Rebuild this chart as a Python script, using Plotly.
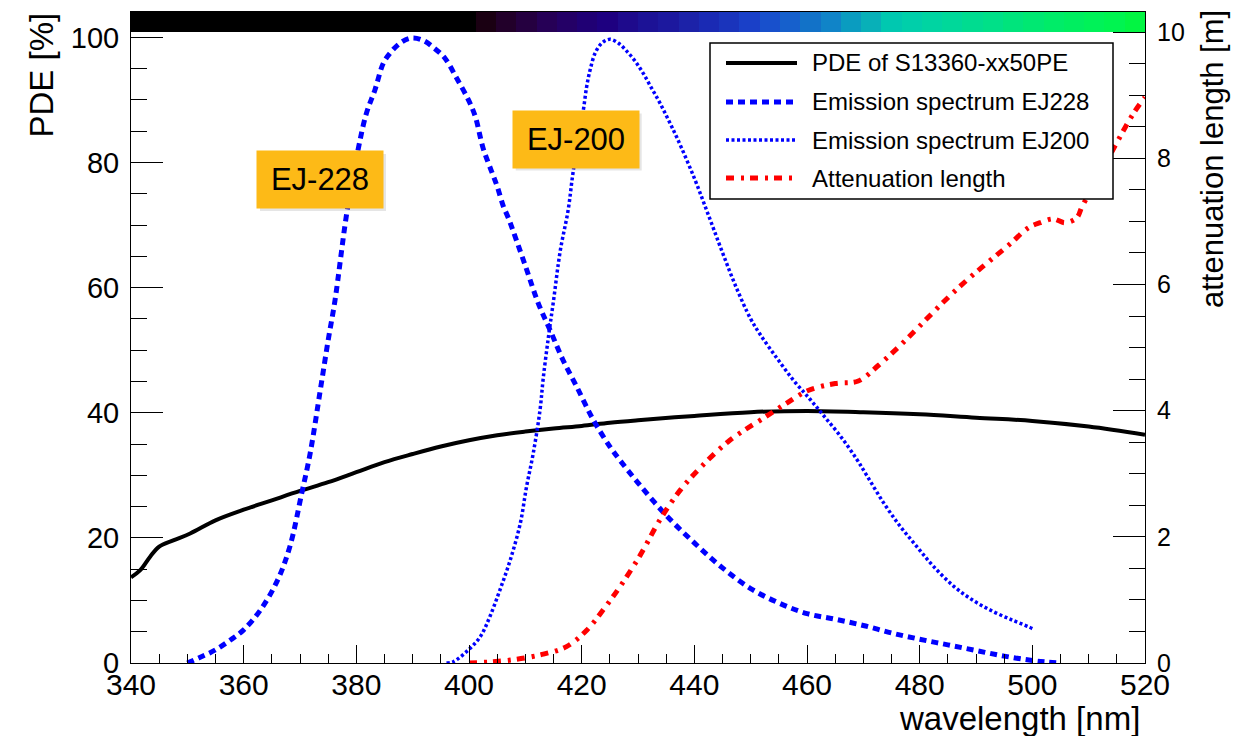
import plotly.graph_objects as go

# ---------------- data ----------------
pde_wl = [340, 341.6, 343.4, 345, 347.5, 350.5, 355, 360, 365, 370, 375, 380, 385, 390,
          395, 400, 405, 410, 415, 420, 425, 430, 440, 450, 460, 470, 480, 490, 500, 510, 520]
pde_val = [13.7, 14.8, 17.0, 18.6, 19.6, 20.7, 22.8, 24.5, 26.0, 27.5, 28.9, 30.5, 32.1, 33.4,
           34.6, 35.6, 36.4, 37.0, 37.5, 37.9, 38.4, 38.8, 39.5, 40.1, 40.3, 40.1, 39.75, 39.2,
           38.7, 37.8, 36.5]

ej228_wl = [350, 352, 355, 358, 360, 363, 366, 368.2, 370.3, 371.8, 373.6, 375, 376.2, 378.3,
            380.3, 381.8, 383.3, 384.8, 386, 387.8, 389.8, 391.9, 393.8, 395.7, 397.8, 399.9,
            401.1, 402.5, 404, 405, 406.1, 407, 410, 412.3, 414.4, 416.7, 419.1, 422.1, 425,
            426.8, 430, 435, 440, 445, 450, 455, 460, 465, 470, 475, 480, 485, 490, 495, 500,
            502.6, 505]
ej228_val = [0, 0.8, 2.1, 3.9, 5.3, 8.5, 13.2, 18.6, 27.1, 33.5, 43.6, 51.6, 57.9, 71.9,
             82.0, 87.9, 91.6, 95.9, 97.5, 99.1, 99.9, 99.5, 98.3, 96.7, 93.5, 90.0,
             87.4, 82.3, 78.6, 76.2, 73.0, 71.1, 63.5, 57.5, 53.2, 48.4, 44.2, 38.8, 34.6,
             32.4, 28.8, 23.6, 19.2, 15.2, 11.9, 9.6, 7.9, 7.0, 6.0, 4.8, 3.8, 2.9, 2.0, 1.1,
             0.4, 0.16, 0]

ej200_wl = [396, 397.2, 399.9, 402, 403.7, 405.5, 407.3, 409.1, 410.2, 411.4, 412.6, 413.2,
            414.1, 415, 416.2, 417.6, 418.5, 420.3, 420.9, 421.5, 422.4, 423.6, 425, 426.5,
            428, 429.5, 430.9, 432.4, 433.9, 435.4, 437, 440, 442.5, 445, 447.5, 450, 451.7,
            454.6, 457.6, 460.5, 462.9, 465.9, 468.8, 470.6, 473.6, 476.5, 479.5, 482.4, 486,
            489.5, 493.1, 496.6, 499.3, 500]
ej200_val = [0, 0.2, 2.1, 4.2, 7.4, 11.7, 16.4, 22.3, 28.1, 33.5, 40.4, 45.7,
             52.1, 57.9, 65.9, 72.4, 78.6, 88.4, 92.2, 94.8, 97.5, 99.1, 99.7, 99.1,
             97.8, 96.2, 94.3, 91.9, 89.5, 86.8, 83.8, 77.5, 71.6, 65.6, 59.9, 55.0, 52.5,
             48.8, 45.2, 42.2, 39.6, 36.3, 32.6, 30.0, 25.6, 21.9, 18.6, 15.5, 12.3,
             10.0, 8.2, 6.8, 5.8, 5.5]

att_wl = [400, 404.3, 408.5, 413.2, 417.3, 420.9, 423.8, 426.8, 430.4, 433.9, 437.5, 441,
          446.3, 452.6, 456.4, 460.2, 465, 469.1, 472.7, 475.9, 479.2, 482.4, 485.7, 488.9,
          492.5, 496, 499.3, 501.4, 503.7, 505.8, 507.9, 508.8, 512, 515, 518, 520]
att_val = [0, 0.02, 0.06, 0.14, 0.26, 0.52, 0.84, 1.21, 1.71, 2.27, 2.74, 3.09,
           3.53, 3.90, 4.12, 4.32, 4.43, 4.47, 4.72, 4.98, 5.27, 5.56, 5.85, 6.11,
           6.38, 6.64, 6.90, 6.98, 7.04, 6.98, 7.06, 7.23, 7.75, 8.25, 8.72, 8.97]

# colour strip on top: 50 bins of 3.6 nm from 340 to 520 nm
strip_lo, strip_hi, strip_bins = 340.0, 520.0, 50
strip_colors = (["#000000"] * 17 + [
    "#1a0012", "#22002a", "#250040", "#260056", "#240066", "#200074", "#1e0080",
    "#1e0a8c", "#1c1296", "#1c189e", "#1c22a8", "#1a2ab4", "#1a34bc", "#1a40c8",
    "#1850cc", "#1660cc", "#1272c8", "#1084c8", "#0a9cc0", "#08b0b8", "#00c8b0",
    "#00cfaa", "#00d4a2", "#00d89a", "#00dc90", "#00e088", "#00e47c", "#00e872",
    "#00ec68", "#00ee60", "#00f258", "#00f450", "#02f542"])

legend_names = ["PDE of S13360-xx50PE", "Emission spectrum EJ228",
                "Emission spectrum EJ200", "Attenuation length"]

# ---------------- figure ----------------
W, H = 1252, 736
ML, MR, MT, MB = 131, 107, 12, 73
PW, PH = W - ML - MR, H - MT - MB


def px(xp):
    return (xp - ML) / PW


def py(yp):
    return (H - MB - yp) / PH


FONT = "Liberation Sans, Arial, Helvetica, sans-serif"

styles = [
    dict(color="black", width=4, dash="solid"),
    dict(color="#0000ff", width=5, dash="7px,5px"),
    dict(color="#0000ff", width=3.5, dash="3px,2.5px"),
    dict(color="#ff0000", width=5, dash="8px,7px,3px,6px"),
]

fig = go.Figure()

# top colour strip
step = (strip_hi - strip_lo) / strip_bins
edges = [strip_lo + i * step for i in range(strip_bins + 1)]
n = len(strip_colors)
cscale = [[i / (n - 1), c] for i, c in enumerate(strip_colors)]
fig.add_trace(go.Heatmap(x=edges, y=[10.0, 10.32], z=[list(range(n))],
                         colorscale=cscale, zmin=0, zmax=n - 1, showscale=False,
                         hoverinfo="skip", yaxis="y2"))

fig.add_trace(go.Scatter(x=pde_wl, y=pde_val, mode="lines", line=styles[0],
                         name=legend_names[0], line_shape="spline", showlegend=False))
fig.add_trace(go.Scatter(x=ej228_wl, y=ej228_val, mode="lines", line=styles[1],
                         name=legend_names[1], line_shape="spline", showlegend=False))
fig.add_trace(go.Scatter(x=ej200_wl, y=ej200_val, mode="lines", line=styles[2],
                         name=legend_names[2], line_shape="spline", showlegend=False))
fig.add_trace(go.Scatter(x=att_wl, y=att_val, mode="lines", line=styles[3],
                         name=legend_names[3], line_shape="spline", yaxis="y2",
                         showlegend=False))

axis_common = dict(showgrid=False, zeroline=False, showline=True, linecolor="black",
                   linewidth=1, ticks="inside", tickcolor="black", tickwidth=1)

fig.update_layout(
    width=W, height=H, autosize=False,
    margin=dict(l=ML, r=MR, t=MT, b=MB, pad=0),
    paper_bgcolor="white", plot_bgcolor="white",
    font=dict(family=FONT, color="black"),
    showlegend=False,
    xaxis=dict(range=[340, 520], tick0=340, dtick=20, ticklen=18, mirror=True,
               tickfont=dict(size=30, family=FONT), ticklabelstandoff=-5,
               minor=dict(tick0=340, dtick=5, ticks="inside", ticklen=9,
                          tickcolor="black"),
               **axis_common),
    yaxis=dict(range=[0, 104.06], tick0=0, dtick=20, ticklen=32,
               tickfont=dict(size=29, family=FONT), ticklabelstandoff=5,
               minor=dict(tick0=0, dtick=5, ticks="inside", ticklen=16,
                          tickcolor="black"),
               **axis_common),
    yaxis2=dict(range=[0, 10.32], tick0=0, dtick=2, ticklen=32, overlaying="y",
                side="right", tickfont=dict(size=25, family=FONT), ticklabelstandoff=6,
                minor=dict(tick0=0, dtick=0.5, ticks="inside", ticklen=16,
                           tickcolor="black"),
                **axis_common),
)

annotations = [
    dict(text="PDE [%]", xref="paper", yref="paper", x=px(41), y=py(11),
         xanchor="center", yanchor="top", textangle=-90, showarrow=False,
         font=dict(size=33, family=FONT)),
    dict(text="attenuation length [m]", xref="paper", yref="paper", x=px(1212), y=py(8),
         xanchor="center", yanchor="top", textangle=-90, showarrow=False,
         font=dict(size=31, family=FONT)),
    dict(text="wavelength [nm]", xref="paper", yref="paper", x=px(1142), y=py(718),
         xanchor="right", yanchor="middle", showarrow=False,
         font=dict(size=33, family=FONT)),
]

shapes = []
# label boxes with a faint drop shadow
labels = [("EJ-228", 320, 179.5), ("EJ-200", 575.7, 139)]
for txt, cx, cy in labels:
    shapes.append(dict(type="rect", xref="paper", yref="paper",
                       x0=px(cx - 63 + 3), x1=px(cx + 63 + 3),
                       y0=py(cy + 28.5 + 3), y1=py(cy - 28.5 + 3),
                       line=dict(width=0), fillcolor="rgba(0,0,0,0.10)", layer="above"))
    annotations.append(dict(text=txt, xref="paper", yref="paper", x=px(cx), y=py(cy),
                            xanchor="center", yanchor="middle", showarrow=False,
                            bgcolor="#fdba17", width=120, height=51, borderpad=3,
                            font=dict(size=31, family=FONT)))

# hand-drawn legend (ROOT style, long line samples)
shapes.append(dict(type="rect", xref="paper", yref="paper", x0=px(710), x1=px(1113),
                   y0=py(199), y1=py(43), line=dict(color="black", width=1.5),
                   fillcolor="white", layer="above"))
rows = [63, 102, 140, 178]
for name, st, ry in zip(legend_names, styles, rows):
    shapes.append(dict(type="line", xref="paper", yref="paper", x0=px(726), x1=px(797),
                       y0=py(ry), y1=py(ry), line=st, layer="above"))
    annotations.append(dict(text=name, xref="paper", yref="paper", x=px(810), y=py(ry),
                            xanchor="left", yanchor="middle", showarrow=False,
                            font=dict(size=24, family=FONT)))

fig.update_layout(annotations=annotations, shapes=shapes)
fig.write_html("out.html")
